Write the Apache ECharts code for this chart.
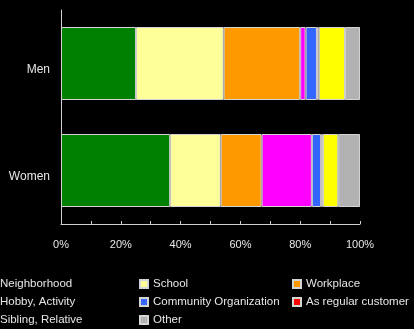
<!DOCTYPE html>
<html>
<head>
<meta charset="utf-8">
<script src="https://cdn.jsdelivr.net/npm/echarts@6/dist/echarts.min.js"></script>
<style>
  html, body { margin: 0; padding: 0; background: #000; }
  #chart { width: 414px; height: 329px; }
</style>
</head>
<body>
<div id="chart"></div>
<script>
// Where people met their friends, share of each source (%)
const groups = ['Men', 'Women'];
const sources = ['Neighborhood', 'School', 'Workplace', 'Hobby, Activity',
                 'Community Organization', 'As regular customer',
                 'Sibling, Relative', 'Other'];
const menShare   = [25.1, 29.3, 25.6, 1.8, 3.8, 0.6, 8.8, 5.0];
const womenShare = [36.5, 16.9, 13.7, 16.8, 3.1, 0.6, 5.1, 7.3];
const xTickLabels = ['0%', '20%', '40%', '60%', '80%', '100%'];

const palette = ['#008000', '#ffff99', '#ff9900', '#ff00ff',
                 '#3366ff', '#ff0000', '#ffff00', '#b2b2b2'];

const chart = echarts.init(document.getElementById('chart'), null, { renderer: 'canvas' });

const series = sources.map((name, i) => ({
  name: name,
  type: 'bar',
  stack: 'total',
  barWidth: 73,
  data: [menShare[i], womenShare[i]],
  itemStyle: { color: palette[i], borderColor: '#d4d4d4', borderWidth: 1 },
  emphasis: { disabled: true },
  animation: false
}));

const legendBase = {
  orient: 'vertical',
  top: 278,
  height: 51,
  padding: 0,
  itemWidth: 8,
  itemHeight: 8,
  itemGap: 6,
  icon: 'rect',
  textStyle: { color: '#e6e6e6', fontSize: 11.5, fontFamily: 'Liberation Sans, Arial, sans-serif' },
  selectedMode: false
};

chart.setOption({
  backgroundColor: '#000',
  animation: false,
  grid: { left: 61, right: 54, top: 10, bottom: 105 },
  xAxis: {
    type: 'value',
    min: 0,
    max: 100,
    interval: 20,
    axisLine: { show: true, lineStyle: { color: '#d0d0d0', width: 1 } },
    axisTick: { show: true, inside: true, length: 3, lineStyle: { color: '#d0d0d0' } },
    minorTick: { show: true, splitNumber: 2, length: 3, lineStyle: { color: '#d0d0d0' } },
    splitLine: { show: false },
    axisLabel: {
      color: '#e6e6e6', fontSize: 11, margin: 15,
      fontFamily: 'Liberation Sans, Arial, sans-serif',
      formatter: v => xTickLabels[Math.round(v / 20)]
    }
  },
  yAxis: {
    type: 'category',
    inverse: true,
    data: groups,
    axisLine: { show: true, lineStyle: { color: '#d0d0d0', width: 1 } },
    axisTick: { show: false },
    axisLabel: {
      color: '#e6e6e6', fontSize: 12, margin: 11,
      verticalAlign: 'top',
      fontFamily: 'Liberation Sans, Arial, sans-serif'
    }
  },
  legend: [
    Object.assign({}, legendBase, { left: -14, data: [sources[0], sources[3], sources[6]] }),
    Object.assign({}, legendBase, { left: 139, data: [sources[1], sources[4], sources[7]] }),
    Object.assign({}, legendBase, { left: 292, data: [sources[2], sources[5]] })
  ],
  series: series
});
</script>
</body>
</html>
